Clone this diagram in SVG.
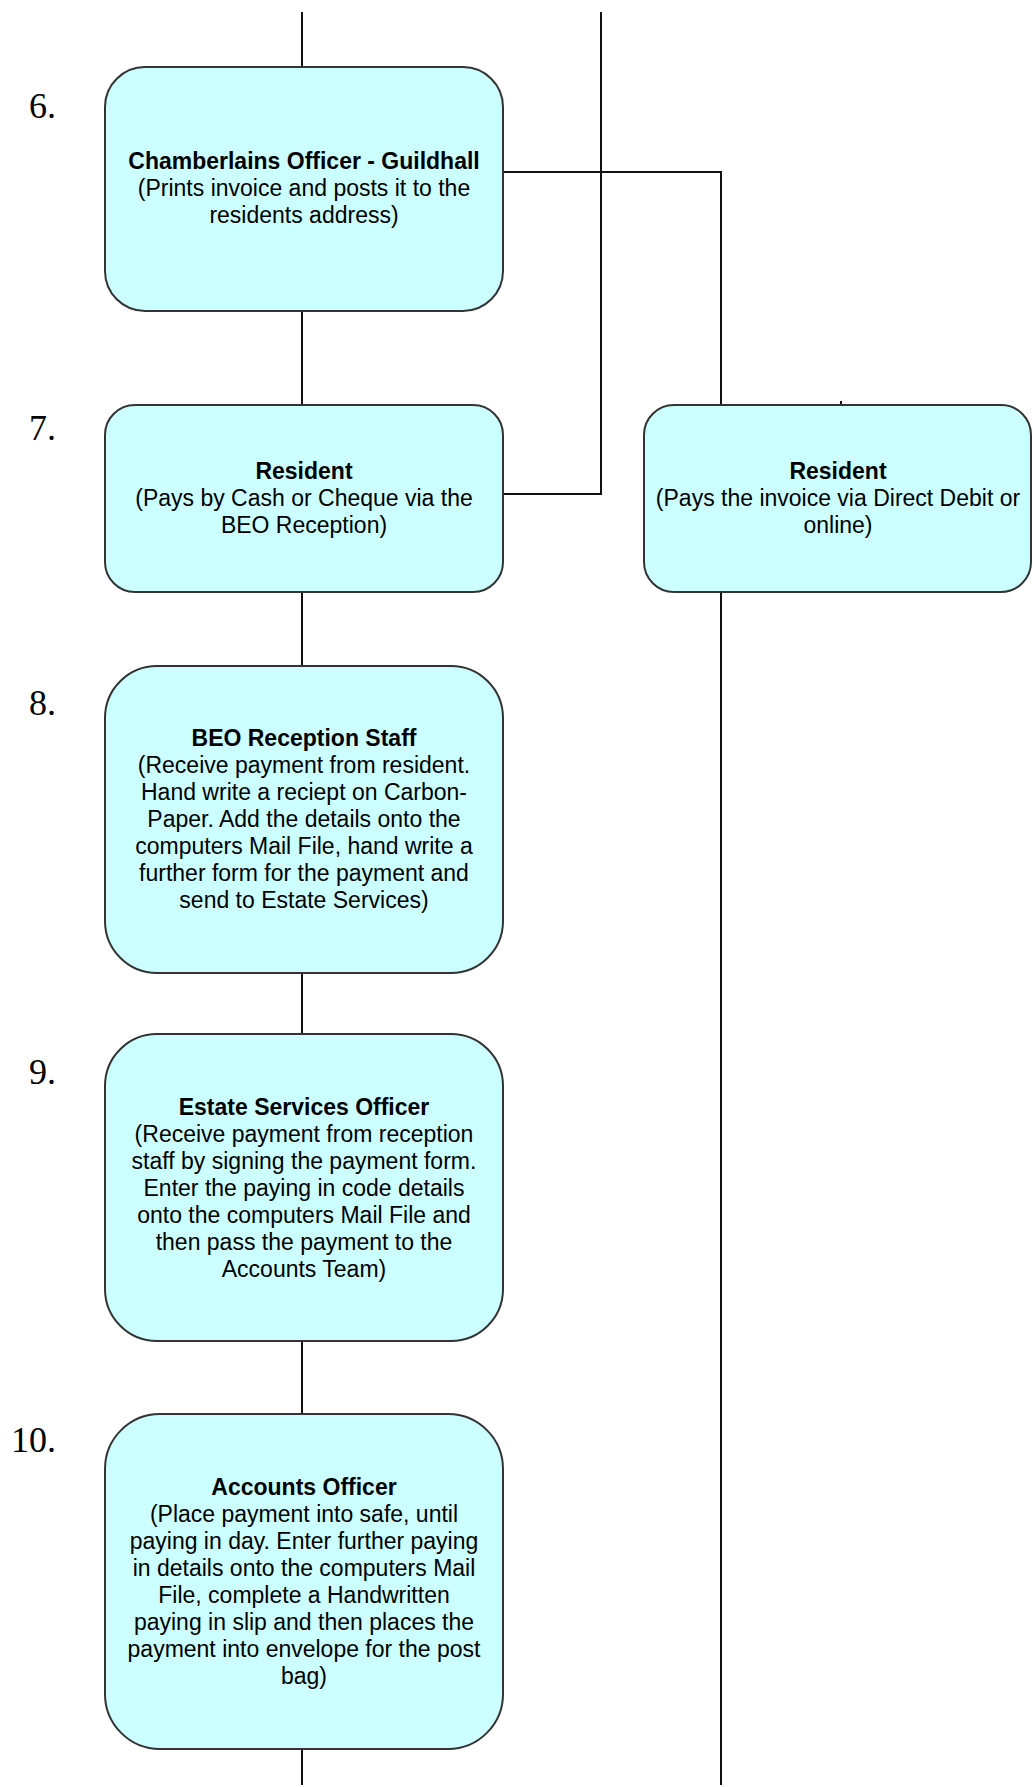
<svg xmlns="http://www.w3.org/2000/svg" width="1033" height="1787" viewBox="0 0 1033 1787">
  <style>
    .box { fill: #CCFFFF; stroke: #333333; stroke-width: 2; }
    .wire { fill: none; stroke: #111111; stroke-width: 2; }
    .t { font-family: "Liberation Sans", Arial, sans-serif; font-size: 23px; fill: #000000; text-anchor: middle; }
    .h { font-weight: bold; }
    .num { font-family: "Liberation Serif", "Times New Roman", serif; font-size: 36px; fill: #000000; text-anchor: end; }
  </style>
  <rect width="1033" height="1787" fill="#FFFFFF"/>

  <!-- connectors -->
  <g id="connectors">
    <!-- main trunk on the left -->
    <line class="wire" x1="302" y1="12" x2="302" y2="67"/>
    <line class="wire" x1="302" y1="311" x2="302" y2="405"/>
    <line class="wire" x1="302" y1="592" x2="302" y2="666"/>
    <line class="wire" x1="302" y1="973" x2="302" y2="1034"/>
    <line class="wire" x1="302" y1="1341" x2="302" y2="1414"/>
    <line class="wire" x1="302" y1="1749" x2="302" y2="1785"/>
    <!-- cash/cheque route back up -->
    <polyline class="wire" points="503,494 601,494 601,12"/>
    <!-- invoice route to direct debit resident -->
    <polyline class="wire" points="503,172 721,172 721,405"/>
    <line class="wire" x1="841" y1="401" x2="841" y2="405"/>
    <!-- direct debit route down -->
    <line class="wire" x1="721" y1="592" x2="721" y2="1785"/>
  </g>

  <!-- step numbers -->
  <g id="step-numbers">
    <text class="num" x="56" y="118">6.</text>
    <text class="num" x="56" y="440">7.</text>
    <text class="num" x="56" y="715">8.</text>
    <text class="num" x="56" y="1084">9.</text>
    <text class="num" x="56" y="1452">10.</text>
  </g>

  <g id="node-chamberlains">
    <rect class="box" x="105" y="67" width="398" height="244" rx="40" ry="40"/>
    <text class="t h" x="304" y="169">Chamberlains Officer - Guildhall</text>
    <text class="t" x="304" y="196">(Prints invoice and posts it to the</text>
    <text class="t" x="304" y="223">residents address)</text>
  </g>

  <g id="node-resident-cash">
    <rect class="box" x="105" y="405" width="398" height="187" rx="30" ry="30"/>
    <text class="t h" x="304" y="479">Resident</text>
    <text class="t" x="304" y="506">(Pays by Cash or Cheque via the</text>
    <text class="t" x="304" y="533">BEO Reception)</text>
  </g>

  <g id="node-resident-dd">
    <rect class="box" x="644" y="405" width="387" height="187" rx="30" ry="30"/>
    <text class="t h" x="838" y="479">Resident</text>
    <text class="t" x="838" y="506">(Pays the invoice via Direct Debit or</text>
    <text class="t" x="838" y="533">online)</text>
  </g>

  <g id="node-reception">
    <rect class="box" x="105" y="666" width="398" height="307" rx="52" ry="52"/>
    <text class="t h" x="304" y="746">BEO Reception Staff</text>
    <text class="t" x="304" y="773">(Receive payment from resident.</text>
    <text class="t" x="304" y="800">Hand write a reciept on Carbon-</text>
    <text class="t" x="304" y="827">Paper. Add the details onto the</text>
    <text class="t" x="304" y="854">computers Mail File, hand write a</text>
    <text class="t" x="304" y="881">further form for the payment and</text>
    <text class="t" x="304" y="908">send to Estate Services)</text>
  </g>

  <g id="node-estate-services">
    <rect class="box" x="105" y="1034" width="398" height="307" rx="52" ry="52"/>
    <text class="t h" x="304" y="1115">Estate Services Officer</text>
    <text class="t" x="304" y="1142">(Receive payment from reception</text>
    <text class="t" x="304" y="1169">staff by signing the payment form.</text>
    <text class="t" x="304" y="1196">Enter the paying in code details</text>
    <text class="t" x="304" y="1223">onto the computers Mail File and</text>
    <text class="t" x="304" y="1250">then pass the payment to the</text>
    <text class="t" x="304" y="1277">Accounts Team)</text>
  </g>

  <g id="node-accounts">
    <rect class="box" x="105" y="1414" width="398" height="335" rx="55" ry="55"/>
    <text class="t h" x="304" y="1495">Accounts Officer</text>
    <text class="t" x="304" y="1522">(Place payment into safe, until</text>
    <text class="t" x="304" y="1549">paying in day. Enter further paying</text>
    <text class="t" x="304" y="1576">in details onto the computers Mail</text>
    <text class="t" x="304" y="1603">File, complete a Handwritten</text>
    <text class="t" x="304" y="1630">paying in slip and then places the</text>
    <text class="t" x="304" y="1657">payment into envelope for the post</text>
    <text class="t" x="304" y="1684">bag)</text>
  </g>
</svg>
